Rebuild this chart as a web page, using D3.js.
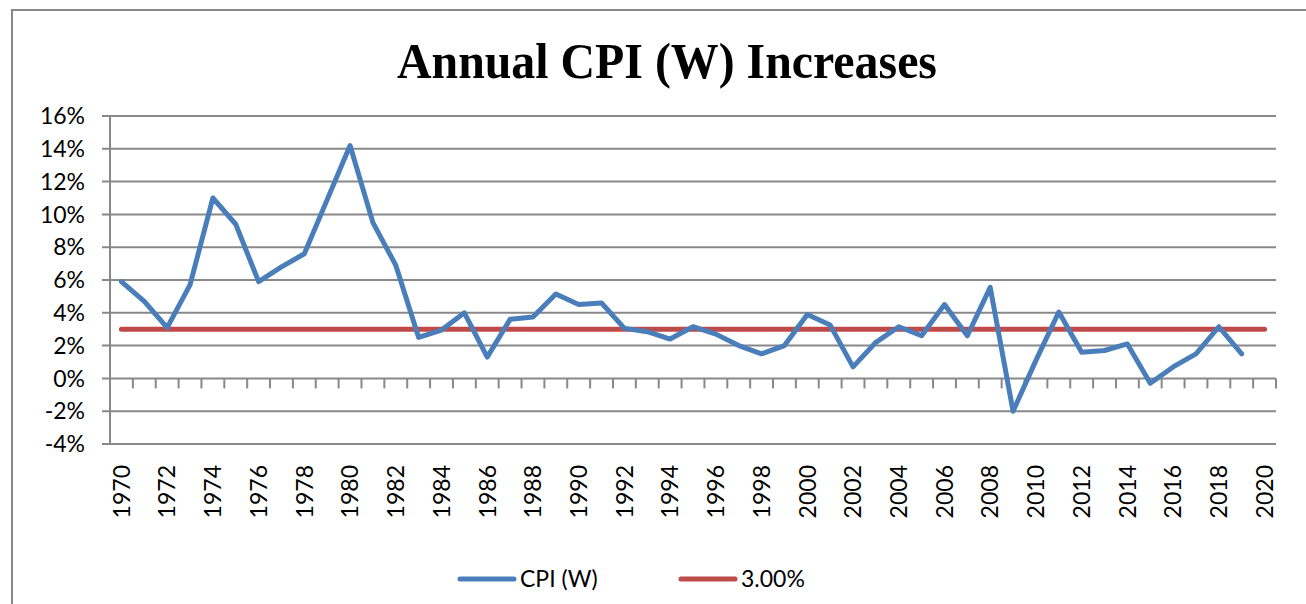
<!DOCTYPE html>
<html>
<head>
<meta charset="utf-8">
<script src="https://cdn.jsdelivr.net/npm/d3@7"></script>
<style>
  html, body { margin: 0; padding: 0; background: #fff; }
  svg { display: block; }
  .tick-label { font-family: Lato, "Open Sans", sans-serif; font-size: 23px; fill: #000; }
</style>
</head>
<body>
<div id="chart"></div>
<script>
// Annual CPI (W) increases, 1970-2020 category axis

const years = d3.range(1970, 2021);           // category axis 1970..2020
const cpiYears = d3.range(1970, 2020);        // CPI series stops at 2019
const cpiValues = [
  5.9, 4.7, 3.1, 5.7, 11.0, 9.4, 5.9, 6.8, 7.6, 10.9,
  14.2, 9.5, 6.9, 2.5, 2.95, 4.0, 1.3, 3.6, 3.75, 5.15,
  4.5, 4.6, 3.05, 2.85, 2.4, 3.15, 2.7, 2.0, 1.5, 2.0,
  3.9, 3.25, 0.7, 2.2, 3.15, 2.6, 4.5, 2.6, 5.55, -2.0,
  1.1, 4.05, 1.6, 1.7, 2.1, -0.3, 0.7, 1.5, 3.15, 1.5
];
const targetValues = years.map(() => 3.0);    // flat 3.00% reference line
const yTicks = [-4, -2, 0, 2, 4, 6, 8, 10, 12, 14, 16];
const xLabelYears = years.filter(y => y % 2 === 0);

const CONFIG = {
  WIDTH: 1306,
  HEIGHT: 604,
  PLOT_LEFT: 110,
  PLOT_RIGHT: 1276,
  PLOT_TOP: 116,
  PLOT_BOTTOM: 444,
  GRID_COLOR: '#888888',
  CPI_COLOR: '#4a7ebb',
  TARGET_COLOR: '#be4b48',
  LINE_WIDTH: 5,
};

const svg = d3.select('#chart')
  .append('svg')
  .attr('width', CONFIG.WIDTH)
  .attr('height', CONFIG.HEIGHT);

// outer chart border (runs off the right and bottom edges)
svg.append('rect')
  .attr('x', 12)
  .attr('y', 10)
  .attr('width', 1310)
  .attr('height', 620)
  .attr('fill', 'none')
  .attr('stroke', CONFIG.GRID_COLOR)
  .attr('stroke-width', 2);

// title is a bit condensed in the original, squeeze it to width
svg.append('text')
  .attr('x', 397)
  .attr('y', 78)
  .attr('textLength', 540)
  .attr('lengthAdjust', 'spacingAndGlyphs')
  .style('font-family', '"Liberation Serif", "Times New Roman", serif')
  .style('font-weight', 'bold')
  .style('font-size', '50px')
  .text('Annual CPI (W) Increases');

const x = d3.scaleBand()
  .domain(years)
  .range([CONFIG.PLOT_LEFT, CONFIG.PLOT_RIGHT]);

const y = d3.scaleLinear()
  .domain([-4, 16])
  .range([CONFIG.PLOT_BOTTOM, CONFIG.PLOT_TOP]);

const cx = yr => x(yr) + x.bandwidth() / 2;

// horizontal gridlines, extended left as tick marks
svg.append('g')
  .selectAll('line')
  .data(yTicks)
  .join('line')
  .attr('x1', CONFIG.PLOT_LEFT - 8)
  .attr('x2', CONFIG.PLOT_RIGHT)
  .attr('y1', d => y(d))
  .attr('y2', d => y(d))
  .attr('stroke', CONFIG.GRID_COLOR)
  .attr('stroke-width', 2);

svg.append('g')
  .selectAll('text')
  .data(yTicks)
  .join('text')
  .attr('class', 'tick-label')
  .attr('x', 85)
  .attr('y', d => y(d))
  .attr('dy', '0.36em')
  .attr('text-anchor', 'end')
  .text(d => `${d}%`);

// vertical value axis
svg.append('line')
  .attr('x1', CONFIG.PLOT_LEFT)
  .attr('x2', CONFIG.PLOT_LEFT)
  .attr('y1', CONFIG.PLOT_TOP)
  .attr('y2', CONFIG.PLOT_BOTTOM)
  .attr('stroke', CONFIG.GRID_COLOR)
  .attr('stroke-width', 2);

// category tick marks hang below the 0% line, at band edges
const tickEdges = years.map(yr => x(yr)).concat([x(years[years.length - 1]) + x.bandwidth()]);
svg.append('g')
  .selectAll('line')
  .data(tickEdges)
  .join('line')
  .attr('x1', d => d)
  .attr('x2', d => d)
  .attr('y1', y(0))
  .attr('y2', y(0) + 10)
  .attr('stroke', CONFIG.GRID_COLOR)
  .attr('stroke-width', 2);

// rotated year labels
svg.append('g')
  .selectAll('text')
  .data(xLabelYears)
  .join('text')
  .attr('class', 'tick-label')
  .attr('transform', d => `translate(${cx(d)}, 465) rotate(-90)`)
  .attr('dy', '0.36em')
  .attr('text-anchor', 'end')
  .text(d => d);

const line = d3.line()
  .x(d => cx(d[0]))
  .y(d => y(d[1]));

svg.append('path')
  .datum(years.map((yr, i) => [yr, targetValues[i]]))
  .attr('d', line)
  .attr('fill', 'none')
  .attr('stroke', CONFIG.TARGET_COLOR)
  .attr('stroke-width', CONFIG.LINE_WIDTH)
  .attr('stroke-linecap', 'round');

svg.append('path')
  .datum(cpiYears.map((yr, i) => [yr, cpiValues[i]]))
  .attr('d', line)
  .attr('fill', 'none')
  .attr('stroke', CONFIG.CPI_COLOR)
  .attr('stroke-width', CONFIG.LINE_WIDTH)
  .attr('stroke-linecap', 'round')
  .attr('stroke-linejoin', 'round');

// legend
const legendItems = [
  { label: 'CPI (W)', color: CONFIG.CPI_COLOR, x: 460 },
  { label: '3.00%', color: CONFIG.TARGET_COLOR, x: 681 },
];

const legend = svg.append('g')
  .selectAll('g')
  .data(legendItems)
  .join('g')
  .attr('transform', d => `translate(${d.x}, 579)`);

legend.append('line')
  .attr('x1', 0)
  .attr('x2', 54)
  .attr('stroke', d => d.color)
  .attr('stroke-width', CONFIG.LINE_WIDTH)
  .attr('stroke-linecap', 'round');

legend.append('text')
  .attr('class', 'tick-label')
  .attr('x', 60)
  .attr('dy', '0.36em')
  .text(d => d.label);
</script>
</body>
</html>
